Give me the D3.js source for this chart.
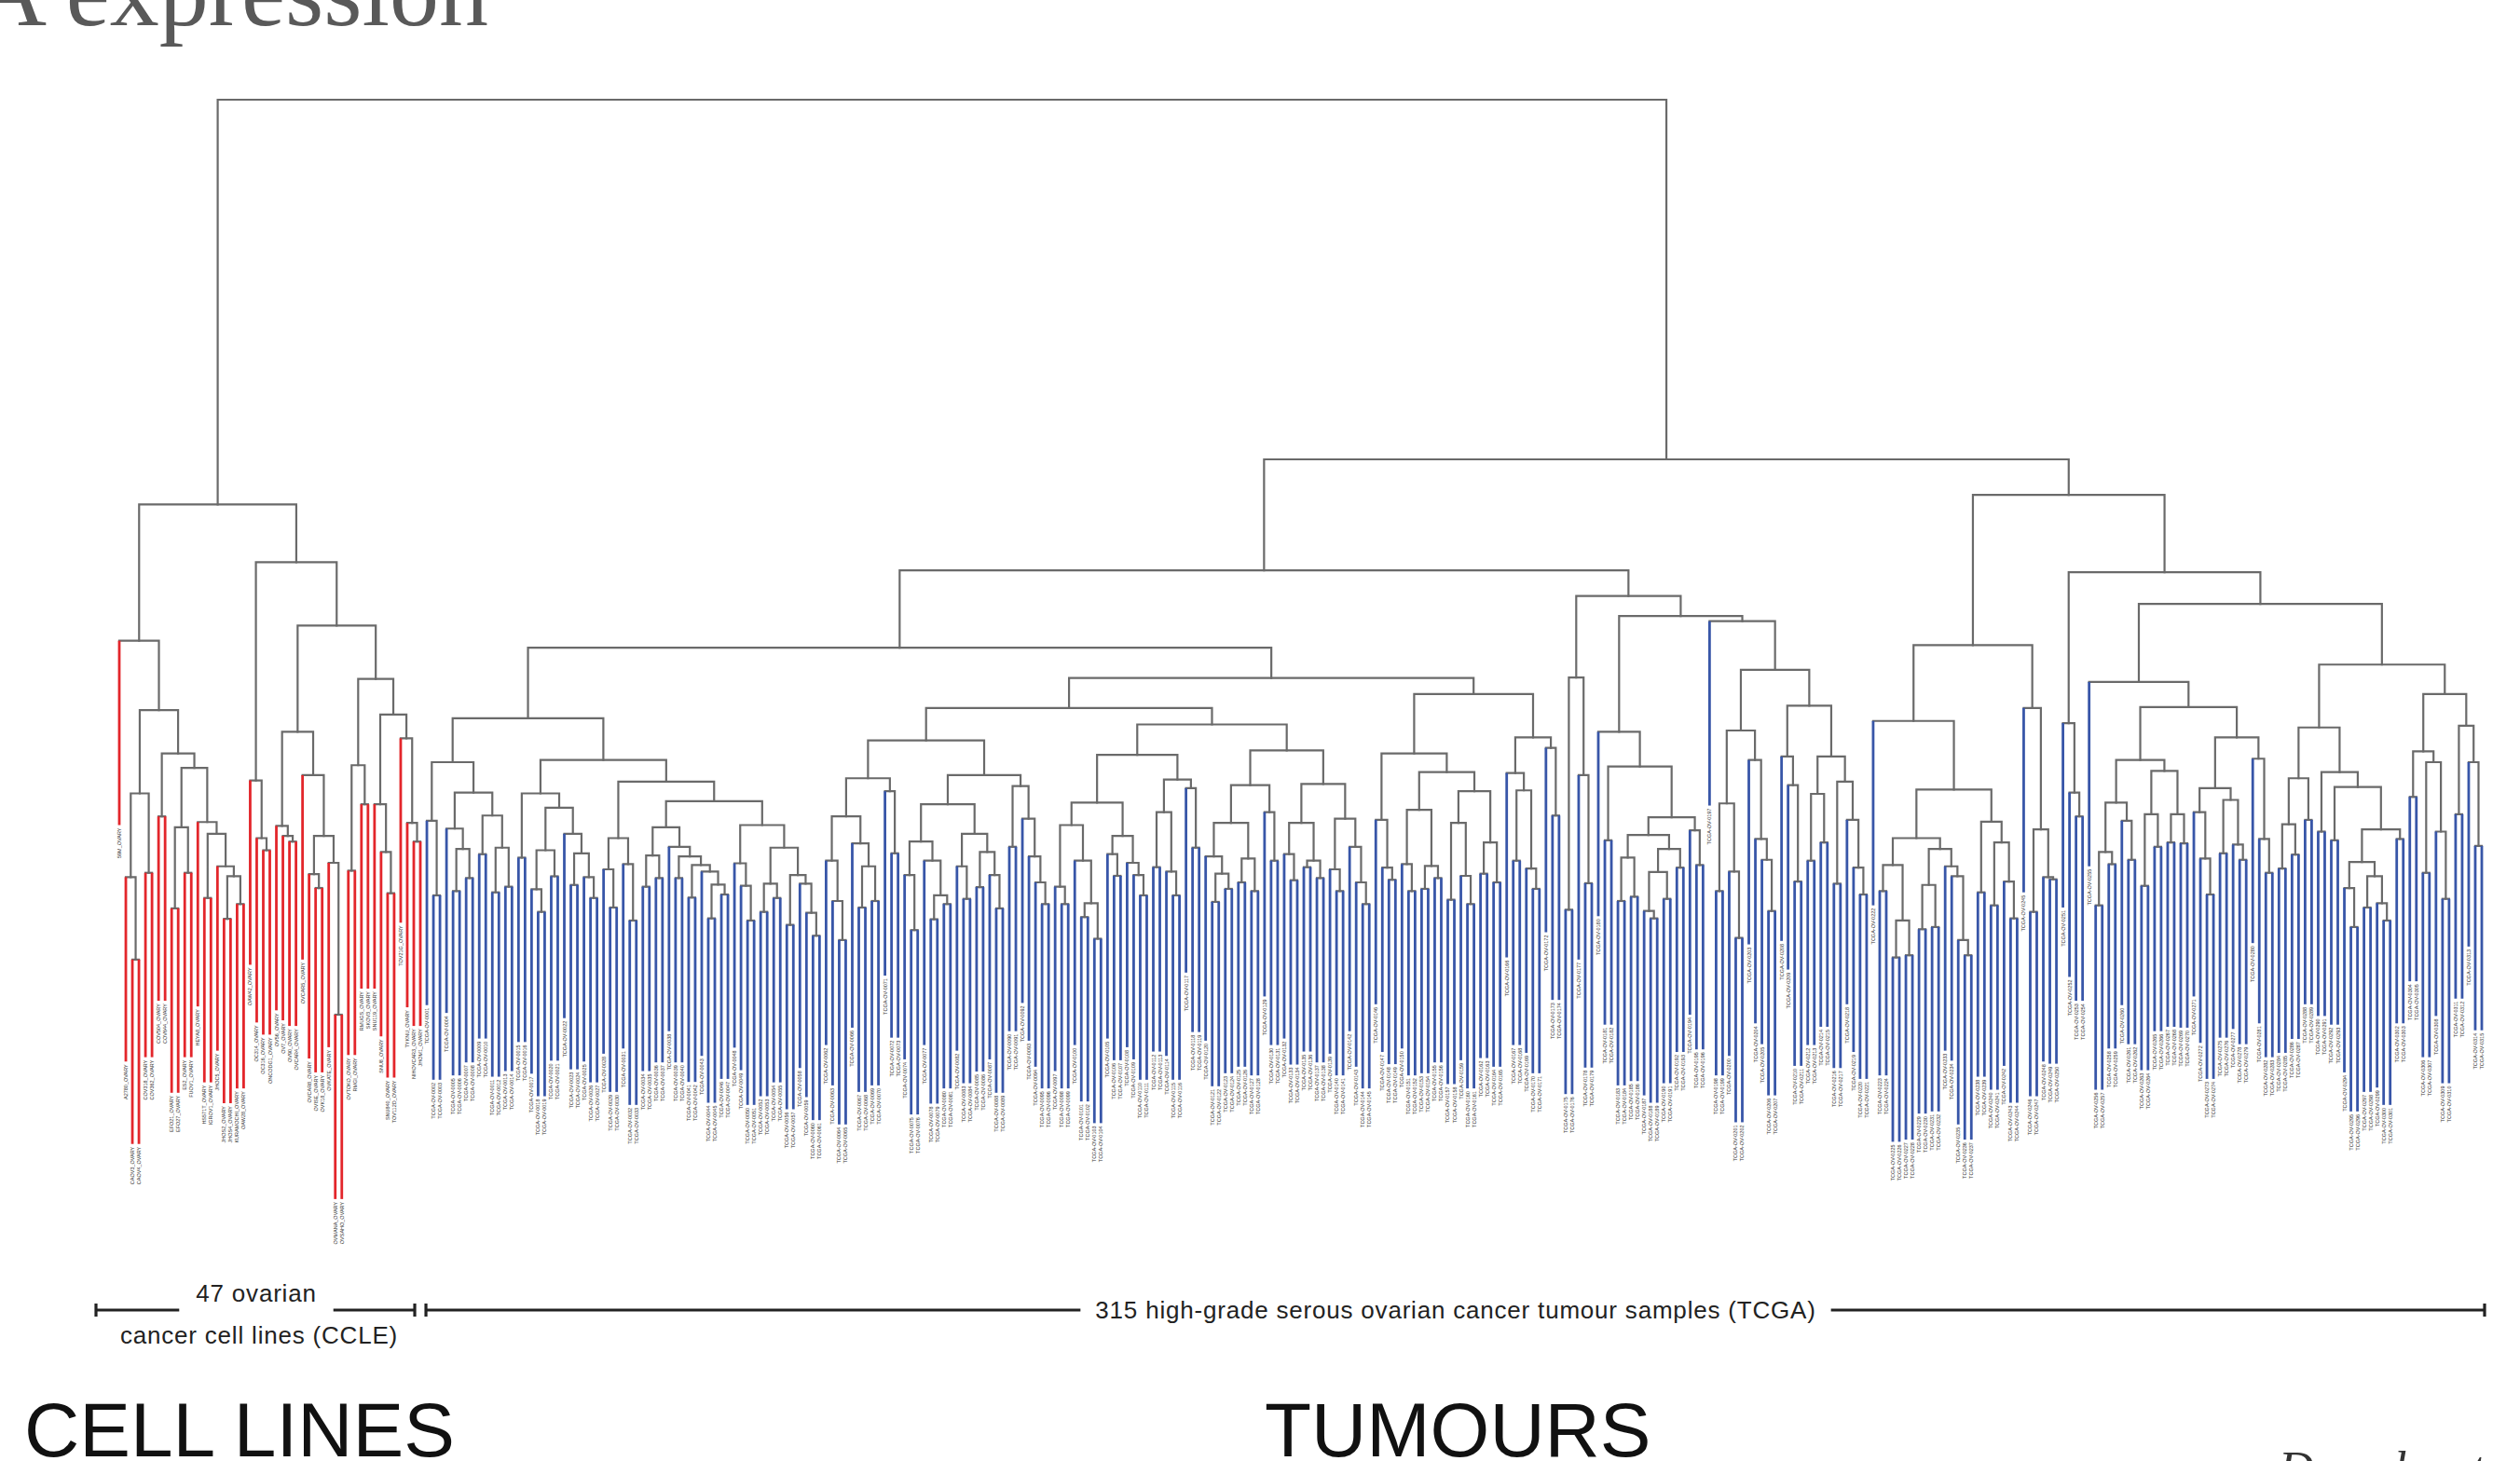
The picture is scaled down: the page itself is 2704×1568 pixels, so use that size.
<!DOCTYPE html>
<html lang="en">
<head>
<meta charset="utf-8">
<title>Cell lines vs tumours - mRNA expression dendrogram</title>
<script src="https://cdn.jsdelivr.net/npm/d3@7"></script>
<style>
  body { margin: 0; background: #fff; }
  svg { display: block; }
</style>
</head>
<body>
<svg id="chart" width="2704" height="1568"></svg>
<script>
/** merge trees in Newick style: x = one sample, (a,b)h = merge at height h */
const N = (a, b, h) => "(" + a + "," + b + ")" + h;

const nCellLines = 47;
const hang = 42.5;          // leaf drop below its merge, same unit as heights
const rootHeight = 273.4;

// cell lines (CCLE)
const clLeft  = "(x,(((x,(x,x)75.2)94.2,(x,x)95.2)113.5,((x,x)108.2,(((x,x)87.0,(x,x)95.2)105.7,(x,((x,x)89.4,(x,((x,x)84.6,(x,x)88.0)94.4)96.7)104.2)106.9)119.4)122.7)132.7)148.7";
const clR2    = "(x,(x,(x,x)100.4)103.2)116.5";
const clR6    = "(x,(x,(x,x)102.4)103.7)106.0";
const clR7    = "(x,((x,(x,x)91.7)94.9,(x,(x,x)62.5)97.5)103.7)117.7";
const clR9    = "((x,x)95.7,(x,x)111.0)120.0";
const clR10   = "((x,(x,(x,x)90.5)100.0)111.0,(x,(x,(x,x)102.4)106.7)126.2)131.7";

// tumours (TCGA), left to right
const tA   = "((x,(x,x)90.0)107.2,((x,((x,x)91.0,(x,x)94.0)100.7)105.4,((x,x)99.5,((x,x)90.7,(x,x)92.0)101.0)108.4)113.7)120.7";
const tBl  = "((x,x)98.7,(((x,(x,x)86.2)91.4,(x,x)94.4)100.4,(x,((x,x)92.4,(x,(x,x)89.4)94.2)99.7)104.2)110.2)113.5";
const tC   = "((x,(x,x)87.2)96.0,(x,(x,x)84.2)97.2)103.2";
const tD1  = "(((x,x)92.0,(x,x)94.0)99.2,(x,((x,x)94.0,((x,x)89.5,(x,((x,x)84.7,(x,x)90.2)92.5)95.5)97.0)99.0)101.2)105.7";
const tD2  = "((x,(x,(x,x)84.2)92.2)97.4,(((x,x)86.2,(x,x)89.4)92.7,((x,x)83.2,(x,(x,(x,x)80.7)86.0)92.7)94.7)101.0)106.2";
const t6   = "(((x,(x,(x,x)79.7)88.7)98.0,(x,((x,x)87.2,(x,x)88.7)96.7)102.0)108.2,(x,(x,x)99.7)114.0)117.0";
const t7   = "(((x,(x,x)82.0)94.7,(x,((x,x)84.5,(x,x)88.0)90.0)98.0)102.4,((x,(x,x)89.2)96.7,((x,x)91.9,(x,(x,x)87.0)94.7)100.0)104.2)111.0";
const t8   = "((x,x)101.2,(x,(x,(x,(x,x)88.0)93.0)99.0)107.7)115.2";
const t9a  = "((x,(x,x)88.0)92.0,(x,((x,x)85.0,(x,x)80.0)88.2)98.0)106.2";
const t9b  = "((x,(x,x)94.5)99.5,(x,(x,(x,x)90.0)94.7)97.5)103.7";
const t9c  = "((x,x)96.5,(x,(x,x)90.0)95.5)109.2";
const t9d  = "(x,(x,x)101.0)114.7";
const t10a = "((x,((x,x)88.5,(x,x)91.5)95.0)99.0,((x,x)93.0,(x,x)91.0)98.5)106.7";
const t10b = "(x,(x,x)98.0)109.2";
const t10c = "((x,(x,x)93.5)99.5,((x,x)96.5,(x,x)94.0)98.0)106.7";
const t10d = "((x,(x,x)91.0)96.0,(x,(x,(x,x)88.0)93.0)101.2)107.7";
const t11a = "(x,(x,(x,x)93.6)96.4)107.4";
const t11b = "((x,(x,x)91.0)97.2,((x,x)91.5,(x,x)94.0)96.8)109.7";
const t11c = "(((x,x)89.0,(x,(x,x)88.0)94.5)106.7,((x,x)95.0,(x,x)93.0)102.2)114.0";
const t11d = "(x,((x,x)98.0,(x,(x,x)91.5)96.2)114.2)118.2";
const t11e = "(x,(x,x)108.4)124.0";
const t12  = "((x,x)86.7,(x,(x,x)92.8)117.7)140.2";
const t13a = "(((x,x)88.7,(x,x)89.7)98.7,(((x,(x,x)84.7)86.4,(x,x)89.2)95.4,(x,x)96.4)100.7)103.9";
const t13b = "(x,(x,x)97.0)105.0";
const t13c = "((x,x)91.0,(x,(x,x)80.2)95.5)111.2";
const t13d = "(x,(x,(x,(x,x)86.4)98.2)103.0)121.2";
const t13e = "(x,(x,(x,x)93.2)115.4)122.0";
const t13f = "((x,x)98.0,(x,x)102.2)113.4";
const t13g = "((x,x)92.7,(x,(x,(x,x)90.2)96.4)107.4)116.2";
const t14a = "((x,x)91.0,((x,x)75.7,(x,x)76.2)84.2)97.0";
const t14b = "((x,x)82.2,(x,x)82.7)92.4";
const t14c = "(x,(x,(x,(x,x)76.2)79.7)94.4)96.7";
const t14d = "((x,x)90.7,((x,x)87.7,(x,(x,x)84.7)93.2)102.2)107.0";
const t14e = "((x,x)86.2,(x,(x,x)93.7)94.2)105.2";
const t15  = "(x,(x,(x,x)108.2)113.7)129.7";
const t16a = "((x,x)87.7,(x,x)97.2)100.0";
const t16b = "(x,(x,x)98.2)107.2";
const t16c = "((x,x)92.2,(x,x)101.2)108.7";
const t16d = "((x,x)102.2,(x,x)102.0)108.7";
const t16e = "(x,(x,(x,x)90.2)98.5)109.2";
const t16f = "((x,x)99.7,(x,(x,x)98.2)101.7)112.0";
const t16g = "(x,(x,(x,x)95.2)103.0)121.5";
const t17a = "(((x,x)96.2,(x,x)99.4)106.4,(x,x)107.4)117.0";
const t17b = "(((x,(x,x)82.7)91.7,((x,x)87.2,(x,(x,x)84.2)88.2)94.4)97.7,(x,x)103.0)105.2";
const t17c = "((x,x)112.7,((x,x)95.2,(x,(x,x)89.2)104.7)120.7)123.2";
const t17d = "((x,x)108.7,(x,(x,x)101.4)120.7)129.1";

// sample names (labels hang under each leaf)
const cellLines = ["59M","A2780","CAOV3","CAOV4","COV318","COV362","COV504","COV644","EFO21","EFO27",
  "ES2","FUOV1","HEYA8","HS571T","IGROV1","JHOC5","JHOS2","JHOS4","KURAMOCHI","OAW28","OAW42",
  "OC314","OC316","ONCODG1","OV56","OV7","OV90","OVCAR4","OVCAR5","OVCAR8","OVISE","OVK18",
  "OVKATE","OVMANA","OVSAHO","OVTOKO","RMGI","RMUGS","SKOV3","SNU119","SNU8","SNU840",
  "TOV112D","TOV21G","TYKNU","NIHOVCAR3","JHOM1"];

const groupText = ["47 ovarian", "cancer cell lines (CCLE)", "315 high-grade serous ovarian cancer tumour samples (TCGA)"];
const panelText = ["CELL LINES", "TUMOURS"];
const titleText = "mRNA expression";
const sourceText = "Domcke et al.";

/** builds the full tree */
const CL = N(clLeft, N(clR2, N(N(clR6, clR7, 127.7), N(clR9, clR10, 139.9), 152.2), 166.8), 180.1);
const TA1a = N(tA, N(tBl, N(tC, N(tD1, tD2, 111.7), 116.2), 121.2), 130.8);
const TA1bL = N(N(t6, N(t7, t8, 117.7), 125.7),
                N(N(N(t9a, t9b, 111.4), N(t9c, t9d, 116.7), 122.4),
                  N(N(t10a, t10b, 115.4), N(t10c, t10d, 115.7), 123.4), 129.4), 133.2);
const TA1bR = N(N(t11a, N(t11b, t11c, 118.4), 122.7), N(t11d, t11e, 126.4), 136.4);
const TA1 = N(TA1a, N(TA1bL, TA1bR, 140.1), 147.1);
const TA2R = N(N("x", N("(x,x)102.7", N(t13a, t13b, 108.0), 119.7), 127.7),
               N("x", N(N(t13c, t13d, 128.0), N(t13e, N(t13f, t13g, 122.0), 133.7), 142.0), 153.2), 154.4);
const TA = N(TA1, N(t12, TA2R, 159.0), 164.9);
const TB1 = N(N("x", N(N(t14a, N(t14b, t14c, 100.7), 103.2), t14d, 114.4), 130.2), N("x", t14e, 133.2), 147.7);
const TB2RL = N("x", N(N(N(t16a, t16b, 111.4), N(t16c, t16d, 118.7), 121.2),
                       N(N(t16e, t16f, 114.7), t16g, 126.4), 133.4), 139.2);
const TB2RR = N(N(t17a, N("(x,x)104.7", N("(x,x)102.7", t17b, 115.0), 118.4), 128.7), N(t17c, t17d, 136.4), 143.2);
const TB = N(TB1, N(t15, N(TB2RL, TB2RR, 157.2), 164.5), 182.3);
const fullTree = N(CL, N(TA, TB, 190.5), rootHeight);

/** parses the Newick-like string into nested objects */
function parseTree(s) {
  let i = 0;
  function node() {
    if (s[i] === "(") {
      i++;
      const a = node();
      if (s[i] !== ",") throw new Error("expected , at " + i);
      i++;
      const b = node();
      if (s[i] !== ")") throw new Error("expected ) at " + i);
      i++;
      let j = i;
      while (j < s.length && /[0-9.]/.test(s[j])) j++;
      const h = +s.slice(i, j);
      i = j;
      return { h: h, children: [a, b] };
    }
    if (s[i] !== "x") throw new Error("expected x at " + i);
    i++;
    return { leaf: true };
  }
  return node();
}

const svg = d3.select("#chart");
const root = d3.hierarchy(parseTree(fullTree));
const leaves = root.leaves();

const xScale = d3.scalePoint().domain(d3.range(leaves.length)).range([128, 2663]);
const yScale = d3.scaleLinear().domain([0, rootHeight]).range([1380, 107]);

leaves.forEach((d, i) => {
  d.x = xScale(i);
  d.cell = i < nCellLines;
  d.label = d.cell ? cellLines[i] + "_OVARY"
                   : "TCGA-OV-" + String(i - nCellLines + 1).padStart(4, "0");
});
root.eachAfter(d => {
  if (d.children) d.x = (d.children[0].x + d.children[1].x) / 2;
});

/** grey branches: horizontal bar plus drops to internal children */
const internals = root.descendants().filter(d => d.children);
svg.append("g")
  .attr("fill", "none")
  .attr("stroke", "#6a6a6a")
  .attr("stroke-width", 2.2)
  .attr("stroke-linecap", "square")
  .selectAll("path")
  .data(internals)
  .join("path")
  .attr("d", d => {
    const yh = yScale(d.data.h);
    let p = "M" + d.children[0].x + "," + yh + "H" + d.children[1].x;
    d.children.forEach(c => {
      if (c.children) p += "M" + c.x + "," + yh + "V" + yScale(c.data.h);
    });
    return p;
  });

/** coloured leaves */
svg.append("g")
  .selectAll("line")
  .data(leaves)
  .join("line")
  .attr("x1", d => d.x).attr("x2", d => d.x)
  .attr("y1", d => yScale(d.parent.data.h))
  .attr("y2", d => yScale(d.parent.data.h - hang))
  .attr("stroke", d => d.cell ? "#e3262b" : "#3856a8")
  .attr("stroke-width", 2.8);

/** leaf labels */
svg.append("g")
  .attr("font-family", "Liberation Sans, Arial, sans-serif")
  .attr("font-size", 5.5)
  .attr("fill", "#333")
  .selectAll("text")
  .data(leaves)
  .join("text")
  .attr("text-anchor", "end")
  .attr("transform", d => "translate(" + (d.x + 2) + "," + (yScale(d.parent.data.h - hang) + 3) + ") rotate(-90)")
  .text(d => d.label);

/** title, cut at the top left */
svg.append("text")
  .attr("x", 524).attr("y", 27)
  .attr("text-anchor", "end")
  .attr("font-family", "Liberation Serif, Times New Roman, serif")
  .attr("font-size", 106)
  .attr("fill", "#595959")
  .text(titleText);

/** group brackets */
const lineY = 1406;
const annot = svg.append("g")
  .attr("font-family", "Liberation Sans, Arial, sans-serif")
  .attr("font-size", 26)
  .attr("letter-spacing", 0.8)
  .attr("fill", "#222");

function bracket(x1, x2, gapCenter, gapHalf) {
  const g = annot.append("g").attr("stroke", "#222").attr("stroke-width", 3.2);
  g.append("line").attr("x1", x1).attr("x2", gapCenter - gapHalf).attr("y1", lineY).attr("y2", lineY);
  g.append("line").attr("x1", gapCenter + gapHalf).attr("x2", x2).attr("y1", lineY).attr("y2", lineY);
  [x1, x2].forEach(x => g.append("line").attr("x1", x).attr("x2", x).attr("y1", lineY - 7).attr("y2", lineY + 7));
}

const clX1 = xScale(0) - 25, clX2 = xScale(nCellLines - 1) - 6;
const tuX1 = xScale(nCellLines) - 1, tuX2 = xScale(leaves.length - 1) + 3;
const clMid = 275, tuMid = 1562;

const t1 = annot.append("text").attr("x", clMid).attr("y", 1397).attr("text-anchor", "middle").text(groupText[0]);
annot.append("text").attr("x", clMid + 3).attr("y", 1442).attr("text-anchor", "middle").text(groupText[1]);
const t3 = annot.append("text").attr("x", tuMid).attr("y", 1415).attr("text-anchor", "middle").text(groupText[2]);

bracket(clX1, clX2, clMid, t1.node().getComputedTextLength() / 2 + 18);
bracket(tuX1, tuX2, tuMid, t3.node().getComputedTextLength() / 2 + 16);

/** panel labels */
const panels = svg.append("g")
  .attr("font-family", "Liberation Sans, Arial, sans-serif")
  .attr("font-size", 82)
  .attr("fill", "#111");
panels.append("text").attr("x", 26).attr("y", 1563).text(panelText[0]);
panels.append("text").attr("x", 1357).attr("y", 1563).text(panelText[1]);

/** source, mostly below the bottom edge */
svg.append("text")
  .attr("x", 2445).attr("y", 1594)
  .attr("font-family", "Liberation Serif, Times New Roman, serif")
  .attr("font-style", "italic")
  .attr("font-size", 52)
  .attr("fill", "#333")
  .text(sourceText);
</script>
</body>
</html>
